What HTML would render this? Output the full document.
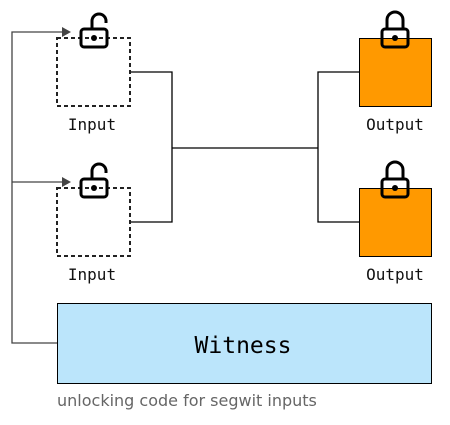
<!DOCTYPE html>
<html><head><style>body{margin:0;background:#fff}</style></head><body>
<svg width="450" height="420" xmlns="http://www.w3.org/2000/svg" font-family="'DejaVu Sans Mono','Liberation Mono',monospace">
<defs>
<g id="ulock"><path d="M-2,0 v-8 a7,7 0 0 1 14,0 v2" fill="none" stroke="#000" stroke-width="3"/><rect x="-13" y="0" width="26" height="18" rx="3" fill="none" stroke="#000" stroke-width="3"/><circle cx="0" cy="9" r="3"/></g>
<g id="lock"><path d="M-8,0 v-9 a8,8 0 0 1 16,0 v9" fill="none" stroke="#000" stroke-width="3"/><rect x="-13" y="0" width="26" height="18" rx="3" fill="none" stroke="#000" stroke-width="3"/><circle cx="0" cy="9" r="3"/></g>
</defs>
<g fill="none" stroke="#000" stroke-width="1.3">
<polyline points="130,72 172,72 172,222 130,222"/>
<line x1="172" y1="148" x2="318" y2="148"/>
<polyline points="359,72 318,72 318,222 359,222"/>
</g>
<g fill="none" stroke="#444" stroke-width="1.3">
<polyline points="57,343 12,343 12,32 64,32"/>
<line x1="12" y1="182" x2="64" y2="182"/>
</g>
<polygon points="62,27 71,32 62,37" fill="#444"/>
<polygon points="62,177 71,182 62,187" fill="#444"/>
<rect x="57" y="38" width="73" height="68" fill="none" stroke="#222" stroke-width="2" stroke-dasharray="4,3"/>
<rect x="57" y="188" width="73" height="68" fill="none" stroke="#222" stroke-width="2" stroke-dasharray="4,3"/>
<rect x="359.5" y="38.5" width="72" height="68" fill="#ff9900" stroke="#000" stroke-width="1"/>
<rect x="359.5" y="188.5" width="72" height="68" fill="#ff9900" stroke="#000" stroke-width="1"/>
<use href="#ulock" x="94" y="29"/>
<use href="#ulock" x="94" y="179"/>
<use href="#lock" x="395" y="29"/>
<use href="#lock" x="395" y="179"/>
<rect x="57.5" y="303.5" width="374" height="80" fill="#bbe5fb" stroke="#000" stroke-width="1"/>
<g font-size="16" fill="#111" text-anchor="middle">
<text x="92" y="130">Input</text>
<text x="92" y="280">Input</text>
<text x="395" y="130">Output</text>
<text x="395" y="280">Output</text>
</g>
<text x="243" y="353" font-size="23" text-anchor="middle" fill="#000">Witness</text>
<text x="57" y="406" font-size="16" fill="#666" font-family="'DejaVu Sans','Liberation Sans',sans-serif">unlocking code for segwit inputs</text>
</svg>
</body></html>
